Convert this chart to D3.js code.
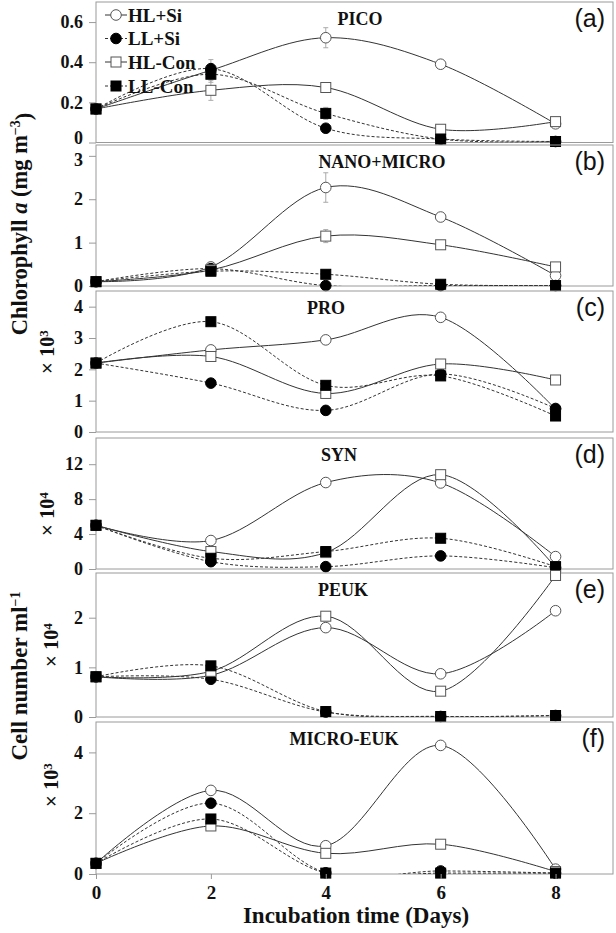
<!DOCTYPE html>
<html>
<head>
<meta charset="utf-8">
<script src="https://cdn.jsdelivr.net/npm/d3@7"></script>
<style>
  body { margin: 0; background: #fff; }
  svg text { font-family: "Liberation Serif", "Times New Roman", serif; font-weight: bold; fill: #111; }
</style>
</head>
<body>
<script>
// incubation days and treatments
const days = [0, 2, 4, 6, 8]
const seriesNames = ["HL+Si", "LL+Si", "HL-Con", "LL-Con"]
const panelTitles = ["PICO", "NANO+MICRO", "PRO", "SYN", "PEUK", "MICRO-EUK"]
const panelLetters = ["(a)", "(b)", "(c)", "(d)", "(e)", "(f)"]

// values per panel, rows in seriesNames order
const picoValues = [
  [0.167, 0.36, 0.522, 0.39, 0.093],
  [0.167, 0.368, 0.071, 0.017, 0.005],
  [0.167, 0.26, 0.274, 0.066, 0.104],
  [0.167, 0.34, 0.145, 0.017, 0.005]
]
const nanoMicroValues = [
  [0.1, 0.44, 2.27, 1.59, 0.24],
  [0.1, 0.40, 0.01, 0.01, 0.01],
  [0.1, 0.37, 1.15, 0.95, 0.44],
  [0.1, 0.34, 0.27, 0.04, 0.01]
]
const proValues = [
  [2.2, 2.62, 2.94, 3.66, 0.73],
  [2.2, 1.56, 0.69, 1.85, 0.75],
  [2.2, 2.41, 1.23, 2.17, 1.66],
  [2.2, 3.52, 1.49, 1.79, 0.51]
]
const synValues = [
  [5.0, 3.26, 9.9, 9.85, 1.42],
  [5.0, 0.84, 0.27, 1.5, 0.15],
  [5.0, 2.0, 1.88, 10.8, 0.2],
  [5.0, 1.23, 2.0, 3.52, 0.27]
]
const peukValues = [
  [0.81, 0.84, 1.80, 0.87, 2.14],
  [0.81, 0.76, 0.10, 0.01, 0.03],
  [0.81, 0.92, 2.03, 0.52, 2.85],
  [0.81, 1.03, 0.11, 0.01, 0.03]
]
const microEukValues = [
  [0.35, 2.75, 0.93, 4.23, 0.16],
  [0.35, 2.33, 0.04, 0.10, 0.03],
  [0.35, 1.58, 0.68, 0.98, 0.08],
  [0.35, 1.81, 0.03, 0.03, 0.03]
]

// error bars (only visible in the chlorophyll panels)
const picoErrors = [
  [0, 0, 0.05, 0.01, 0],
  [0, 0.045, 0.01, 0, 0],
  [0, 0.05, 0.02, 0.01, 0],
  [0, 0.04, 0.03, 0, 0]
]
const nanoMicroErrors = [
  [0, 0.05, 0.34, 0.05, 0.03],
  [0, 0, 0, 0, 0],
  [0, 0.03, 0.15, 0.05, 0.03],
  [0, 0.03, 0.03, 0, 0]
]

const yMax = [0.7, 3.25, 4.5, 15, 2.9, 5]
const yTicks = [[0, 0.2, 0.4, 0.6], [0, 1, 2, 3], [0, 1, 2, 3, 4], [0, 4, 8, 12], [0, 1, 2], [0, 2, 4]]
const yTickLabels = [["0", "0.2", "0.4", "0.6"], ["0", "1", "2", "3"], ["0", "1", "2", "3", "4"],
  ["0", "4", "8", "12"], ["0", "1", "2"], ["0", "2", "4"]]
const multipliers = [null, null, "3", "4", "4", "3"]

const allValues = [picoValues, nanoMicroValues, proValues, synValues, peukValues, microEukValues]
const allErrors = [picoErrors, nanoMicroErrors, null, null, null, null]

// layout
const W = 616, H = 933
const left = 96, right = 613
const tops = [2, 145, 291, 438, 573, 722]
const bottoms = [142.5, 286, 432, 569, 717, 874]
const multPos = [null, null, [47, 352], [47, 514], [51, 645], [51, 785]]

const svg = d3.select("body").append("svg")
  .attr("width", W)
  .attr("height", H)

const x = d3.scaleLinear().domain([0, 9]).range([left, right])

const dashed = [false, true, false, true]
const filled = [false, true, false, true]
const square = [false, false, true, true]

function drawMarker(g, k, cx, cy) {
  if (square[k]) {
    g.append("rect")
      .attr("x", cx - 5).attr("y", cy - 5)
      .attr("width", 10).attr("height", 10)
      .attr("fill", filled[k] ? "#000" : "#fff")
      .attr("stroke", filled[k] ? "#000" : "#555")
      .attr("stroke-width", 1)
  } else {
    g.append("circle")
      .attr("cx", cx).attr("cy", cy).attr("r", 5.3)
      .attr("fill", filled[k] ? "#000" : "#fff")
      .attr("stroke", filled[k] ? "#000" : "#555")
      .attr("stroke-width", 1)
  }
}

allValues.forEach((vals, i) => {
  const y = d3.scaleLinear().domain([0, yMax[i]]).range([bottoms[i], tops[i]])
  const g = svg.append("g")

  g.append("rect")
    .attr("x", left).attr("y", tops[i])
    .attr("width", right - left).attr("height", bottoms[i] - tops[i])
    .attr("fill", "none").attr("stroke", "#9a9a9a").attr("stroke-width", 1)

  const axis = g.append("g")
    .attr("transform", `translate(${left},0)`)
    .call(d3.axisLeft(y).tickValues(yTicks[i]).tickSize(7).tickPadding(6)
      .tickFormat((d, j) => yTickLabels[i][j]))
  axis.select(".domain").remove()
  axis.selectAll("line").attr("stroke", "#9a9a9a")
  axis.selectAll("text").style("font-size", "18px").attr("fill", "#111")
  // the "0" of (a) and the "3" of (b) nearly touch; nudge them apart
  if (i === 0) axis.selectAll("text").filter(d => d === 0).attr("dy", "0.05em")
  if (i === 1) axis.selectAll("text").filter(d => d === 3).attr("dy", "0.56em")

  g.append("clipPath").attr("id", "clip" + i)
    .append("rect")
    .attr("x", left).attr("y", tops[i])
    .attr("width", right - left).attr("height", bottoms[i] - tops[i])

  // error bars
  const errs = allErrors[i]
  if (errs) {
    errs.forEach((row, k) => {
      row.forEach((e, j) => {
        if (!e) return
        const cx = x(days[j])
        const y1 = y(vals[k][j] - e), y2 = y(vals[k][j] + e)
        g.append("line").attr("x1", cx).attr("x2", cx).attr("y1", y1).attr("y2", y2)
          .attr("stroke", "#aaa").attr("stroke-width", 1)
        ;[y1, y2].forEach(yy => g.append("line")
          .attr("x1", cx - 2.5).attr("x2", cx + 2.5).attr("y1", yy).attr("y2", yy)
          .attr("stroke", "#aaa").attr("stroke-width", 1))
      })
    })
  }

  const line = d3.line()
    .x((d, j) => x(days[j]))
    .y(d => y(d))
    .curve(d3.curveCatmullRom.alpha(0))

  const lines = g.append("g").attr("clip-path", `url(#clip${i})`)
  vals.forEach((row, k) => {
    lines.append("path")
      .attr("d", line(row))
      .attr("fill", "none")
      .attr("stroke", "#333")
      .attr("stroke-width", 1)
      .attr("stroke-dasharray", dashed[k] ? "3,2" : null)
  })

  vals.forEach((row, k) => {
    row.forEach((v, j) => drawMarker(g, k, x(days[j]), y(v)))
  })

  // panel title and letter
  const titleX = [360, 382, 326, 339, 343, 344]
  g.append("text")
    .attr("x", titleX[i]).attr("y", tops[i] + 23)
    .attr("text-anchor", "middle")
    .style("font-size", "18px")
    .text(panelTitles[i])

  g.append("text")
    .attr("x", 605).attr("y", tops[i] + 25)
    .attr("text-anchor", "end")
    .style("font-family", "'Liberation Sans', Arial, sans-serif")
    .style("font-weight", "normal")
    .style("font-size", "25px")
    .text(panelLetters[i])

  if (multipliers[i]) {
    const [mx, my] = multPos[i]
    const t = g.append("text")
      .attr("transform", `translate(${mx},${my}) rotate(-90)`)
      .attr("text-anchor", "middle")
      .attr("dy", "0.35em")
      .style("font-size", "20px")
    t.append("tspan").style("font-weight", "normal")
      .style("font-family", "'Liberation Sans', Arial, sans-serif").text("× ")
    t.append("tspan").text("10")
    t.append("tspan").attr("dy", "-0.45em").style("font-size", "13px").text(multipliers[i])
  }

  if (i === allValues.length - 1) {
    const xa = g.append("g")
      .attr("transform", `translate(0,${bottoms[i]})`)
      .call(d3.axisBottom(x).tickValues(days).tickSize(5).tickPadding(7).tickFormat(d3.format("d")))
    xa.select(".domain").remove()
    xa.selectAll("line").attr("stroke", "#9a9a9a")
    xa.selectAll("text").style("font-size", "19px").attr("fill", "#111")
  }
})

// legend inside panel (a)
const legendRows = [15, 38.5, 62, 86]
seriesNames.forEach((name, k) => {
  const ly = legendRows[k]
  svg.append("line")
    .attr("x1", 105).attr("x2", 127).attr("y1", ly).attr("y2", ly)
    .attr("stroke", "#333").attr("stroke-width", 1)
    .attr("stroke-dasharray", dashed[k] ? "3,2" : null)
  drawMarker(svg, k, 116, ly)
  svg.append("text")
    .attr("x", 128).attr("y", ly).attr("dy", "0.35em")
    .style("font-size", "19px")
    .text(name)
})

// axis titles
const chl = svg.append("text")
  .attr("transform", "translate(27,224) rotate(-90)")
  .attr("text-anchor", "middle")
  .style("font-size", "22.5px")
chl.append("tspan").text("Chlorophyll ")
chl.append("tspan").style("font-style", "italic").text("a")
chl.append("tspan").text(" (mg m")
chl.append("tspan").attr("dy", "-0.5em").style("font-size", "14px").text("−3")
chl.append("tspan").attr("dy", "0.5em").text(")")

const cell = svg.append("text")
  .attr("transform", "translate(27,676) rotate(-90)")
  .attr("text-anchor", "middle")
  .style("font-size", "23px")
cell.append("tspan").text("Cell number ml")
cell.append("tspan").attr("dy", "-0.5em").style("font-size", "14px").text("−1")

svg.append("text")
  .attr("x", 356).attr("y", 923)
  .attr("text-anchor", "middle")
  .style("font-size", "23px")
  .text("Incubation time (Days)")
</script>
</body>
</html>
